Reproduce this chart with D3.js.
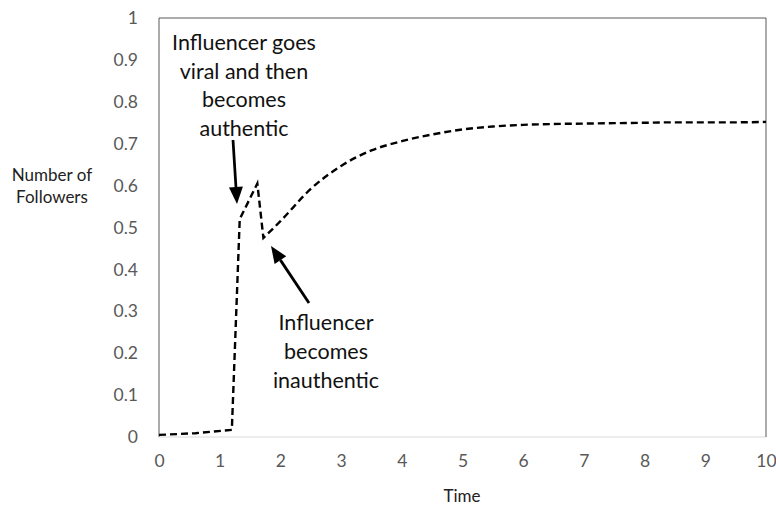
<!DOCTYPE html>
<html><head><meta charset="utf-8">
<script src="https://cdn.jsdelivr.net/npm/d3@7"></script>
<style>body{margin:0;background:#fff;} svg{display:block;}</style>
</head><body>
<svg id="c" width="776" height="510"></svg>
<script>
const timeValues = [0, 0.6, 1.2, 1.33, 1.62, 1.72, 2.0, 2.5, 3.0, 3.5, 4.0, 4.5, 5.0, 5.5, 6.0, 6.5, 7.0, 7.5, 8.0, 8.5, 9.0, 9.5, 10];
const followerValues = [0.005, 0.009, 0.017, 0.52, 0.605, 0.475, 0.515, 0.592, 0.647, 0.684, 0.706, 0.722, 0.734, 0.741, 0.745, 0.747, 0.748, 0.749, 0.750, 0.751, 0.751, 0.751, 0.752];
const xTickLabels = [0,1,2,3,4,5,6,7,8,9,10];
const yTickLabels = [0,0.1,0.2,0.3,0.4,0.5,0.6,0.7,0.8,0.9,1];
const annotationTop = ["Influencer goes", "viral and then", "becomes", "authentic"];
const annotationBottom = ["Influencer", "becomes", "inauthentic"];
const yTitle = ["Number of", "Followers"];
const xTitle = "Time";

const svg = d3.select("#c");
const L = 159, R = 766, T = 18, B = 437;
const x = d3.scaleLinear().domain([0,10]).range([L,R]);
const y = d3.scaleLinear().domain([0,1]).range([B,T]);
const font = "Lato, 'Open Sans', sans-serif";

// plot frame
svg.append("line").attr("x1",L).attr("x2",R).attr("y1",B).attr("y2",B).attr("stroke","#d9d9d9").attr("stroke-width",1);
svg.append("path").attr("d",`M${L},${B}V${T}H${R}V${B}`).attr("fill","none").attr("stroke","#595959").attr("stroke-width",1);

// axes
const yAx = svg.append("g").attr("transform",`translate(${L},0)`)
  .call(d3.axisLeft(y).tickValues(yTickLabels).tickSize(0).tickPadding(21).tickFormat(d3.format("~g")));
yAx.select(".domain").remove();
yAx.selectAll("text").attr("font-family",font).attr("font-size",17.5).attr("fill","#595959");

const xAx = svg.append("g").attr("transform",`translate(0,${B})`)
  .call(d3.axisBottom(x).tickValues(xTickLabels).tickSize(0).tickPadding(18).tickFormat(d3.format("d")));
xAx.select(".domain").remove();
xAx.selectAll("text").attr("font-family",font).attr("font-size",17.5).attr("fill","#595959");

// titles
svg.append("text").attr("x",462).attr("y",502).attr("text-anchor","middle")
  .attr("font-family",font).attr("font-size",17).attr("fill","#222").text(xTitle);
svg.selectAll(".yt").data(yTitle).enter().append("text")
  .attr("x",52).attr("y",(d,i)=>181+i*22).attr("text-anchor","middle")
  .attr("font-family",font).attr("font-size",17).attr("fill","#222").text(d=>d);

// data line: sharp segments up to the trough, smooth recovery afterwards
const pts = timeValues.map((t,i)=>[t, followerValues[i]]);
const trough = 5;
const lin = d3.line().x(d=>x(d[0])).y(d=>y(d[1]));
const smooth = d3.line().x(d=>x(d[0])).y(d=>y(d[1])).curve(d3.curveMonotoneX);
const d1 = lin(pts.slice(0, trough+1));
const d2 = smooth(pts.slice(trough)).replace(/^M/, "L");
svg.append("path").attr("d", d1 + d2).attr("fill","none")
  .attr("stroke","#000").attr("stroke-width",2.4).attr("stroke-dasharray","7,4");

// annotations
svg.selectAll(".a1").data(annotationTop).enter().append("text")
  .attr("x",244).attr("y",(d,i)=>50+i*28.7).attr("text-anchor","middle")
  .attr("font-family",font).attr("font-size",21.5).attr("fill","#111").text(d=>d);
svg.selectAll(".a2").data(annotationBottom).enter().append("text")
  .attr("x",326).attr("y",(d,i)=>330+i*29).attr("text-anchor","middle")
  .attr("font-family",font).attr("font-size",21.5).attr("fill","#111").text(d=>d);

function arrow(x1,y1,x2,y2){
  const a = Math.atan2(y2-y1,x2-x1), len = 17, w = 7;
  const bx = x2 - len*Math.cos(a), by = y2 - len*Math.sin(a);
  svg.append("line").attr("x1",x1).attr("y1",y1).attr("x2",bx).attr("y2",by)
    .attr("stroke","#000").attr("stroke-width",2.8);
  const p = [[x2,y2],[bx + w*Math.sin(a), by - w*Math.cos(a)],[bx - w*Math.sin(a), by + w*Math.cos(a)]];
  svg.append("path").attr("d","M"+p.map(q=>q.join(",")).join("L")+"Z").attr("fill","#000");
}
arrow(233,140,237,204);
arrow(309,303,271,246);
</script>
</body></html>
